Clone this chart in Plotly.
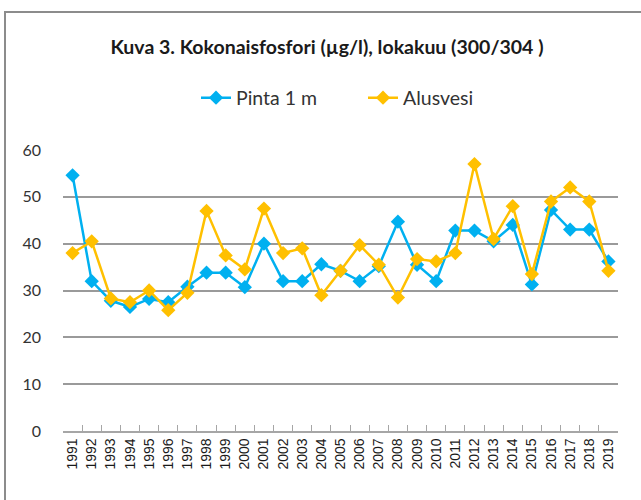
import plotly.graph_objects as go

years = [str(y) for y in range(1991, 2020)]
pinta = [54.6, 32.0, 27.8, 26.5, 28.2, 27.5, 30.8, 33.8, 33.8, 30.7, 40.0, 32.0, 32.0, 35.6,
         34.2, 32.0, 35.2, 44.7, 35.5, 32.0, 42.8, 42.8, 40.5, 44.0, 31.3, 47.2, 43.0, 43.0, 36.2]
alusvesi = [38.0, 40.5, 28.3, 27.5, 30.0, 25.8, 29.5, 47.0, 37.5, 34.5, 47.5, 38.0, 39.0, 29.0,
            34.2, 39.7, 35.5, 28.5, 36.7, 36.2, 38.0, 57.0, 41.0, 48.0, 33.5, 49.0, 52.0, 49.0, 34.2]
yticks = [0, 10, 20, 30, 40, 50, 60]

W, H = 641, 500
ML, MR, MT, MB = 63, 23, 150, 69
pw, ph = W - ML - MR, H - MT - MB

fig = go.Figure()
fig.add_trace(go.Scatter(x=years, y=pinta, name="Pinta 1 m", mode="lines+markers",
                         line=dict(color="#00B0F0", width=2.5),
                         marker=dict(symbol="diamond", size=11, color="#00B0F0")))
fig.add_trace(go.Scatter(x=years, y=alusvesi, name="Alusvesi", mode="lines+markers",
                         line=dict(color="#FFC000", width=2.5),
                         marker=dict(symbol="diamond", size=11, color="#FFC000")))

frame_x0 = (5 - ML) / pw
frame_x1 = (W + 20 - ML) / pw
frame_y1 = 1 + (MT - 12) / ph
frame_y0 = -(H + 20 - (H - MB)) / ph
fig.add_shape(type="rect", xref="paper", yref="paper", x0=frame_x0, x1=frame_x1,
              y0=frame_y0, y1=frame_y1, line=dict(color="#8c8c8c", width=2), layer="above")

fig.update_layout(
    width=W, height=H, margin=dict(l=ML, r=MR, t=MT, b=MB),
    paper_bgcolor="white", plot_bgcolor="white",
    title=dict(text="<b>Kuva 3. Kokonaisfosfori (µg/l), lokakuu (300/304 )</b>",
               x=327 / W, xanchor="center", y=1 - 47 / H, yanchor="middle",
               font=dict(family="Lato", size=19.5, color="#1a1a1a")),
    legend=dict(orientation="h", x=196 / W, xanchor="left", xref="container",
                y=1 - 98 / H, yref="container", yanchor="middle",
                font=dict(family="Lato", size=19.5, color="#333333"),
                entrywidth=122, tracegroupgap=0),
    showlegend=True,
    xaxis=dict(type="category", range=[-0.5, 28.5], tickangle=-90, automargin=False,
               showgrid=False, showline=True, linecolor="#a6a6a6", linewidth=1.5,
               ticks="inside", tickson="boundaries", ticklen=6, tickcolor="#a6a6a6",
               tickfont=dict(family="Liberation Sans", size=14, color="#1a1a1a"),
               fixedrange=True),
    yaxis=dict(range=[0, 60], tickvals=yticks, showgrid=True, gridcolor="#9a9a9a",
               gridwidth=1.5, zeroline=False, showline=False, ticks="", automargin=False,
               ticklabelstandoff=21,
               tickfont=dict(family="Lato", size=16, color="#333333"), fixedrange=True),
)

fig.write_html("out.html", post_script="document.body.style.margin='0';",
               config={"displayModeBar": False})
